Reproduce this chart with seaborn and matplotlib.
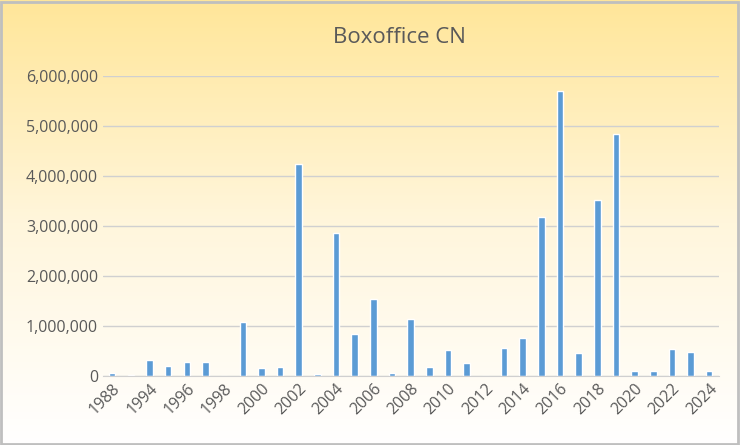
import numpy as np
import pandas as pd
import matplotlib
matplotlib.use("Agg")
import matplotlib.pyplot as plt
from matplotlib.ticker import FuncFormatter
import seaborn as sns

years = ["1988", "1993"] + [str(y) for y in range(1994, 2025)]
boxoffice = [60000, 30000, 320000, 200000, 280000, 280000, 0, 1070000, 160000, 180000,
             4240000, 40000, 2860000, 840000, 1530000, 60000, 1130000, 180000, 510000, 260000,
             0, 550000, 760000, 3170000, 5700000, 450000, 3510000, 4830000, 100000, 100000,
             530000, 470000, 100000]
df = pd.DataFrame({"year": years, "boxoffice": boxoffice})

sns.set_style("white")
plt.rcParams['font.family'] = ['Open Sans', 'DejaVu Sans']

fig = plt.figure(figsize=(7.4, 4.45), dpi=100)
# background gradient
bg = fig.add_axes([0, 0, 1, 1], zorder=-1)
grad = np.linspace(0, 1, 256).reshape(-1, 1)
cmap = matplotlib.colors.LinearSegmentedColormap.from_list("g", ["#ffe699", "#fff6dc", "#ffffff"])
bg.imshow(grad, aspect="auto", cmap=cmap, extent=[0, 1, 0, 1], origin="upper")
bg.add_patch(plt.Rectangle((0.002, 0.003), 0.995, 0.993, fill=False, edgecolor="#bfbfbf", lw=2, transform=bg.transAxes))
bg.axis("off")

ax = fig.add_axes([0.139, 0.155, 0.832, 0.675])
ax.patch.set_alpha(0)
sns.barplot(data=df, x="year", y="boxoffice", color="#5b9bd5", width=0.35, saturation=1, ax=ax)
ax.set_ylim(0, 6000000)
ax.set_yticks(range(0, 6000001, 1000000))
ax.yaxis.set_major_formatter(FuncFormatter(lambda v, p: f"{int(v):,}"))
ax.grid(axis="y", color="#d0d0d0", lw=1)
ax.set_axisbelow(True)
ax.set_xticks(range(0, len(years), 2))
ax.set_xticklabels(years[::2], rotation=45, ha="right", rotation_mode="anchor")
ax.tick_params(axis="both", labelsize=11.5, colors="#595959", length=0)
ax.set_xlabel("")
ax.set_ylabel("")
for s in ["top", "right", "left"]:
    ax.spines[s].set_visible(False)
ax.spines["bottom"].set_color("#d0d0d0")
ax.set_xlim(-0.5, len(years) - 0.5)
fig.text(0.54, 0.915, "Boxoffice CN", ha="center", va="center", fontsize=16, color="#595959")
fig.savefig("out.png", dpi=100)
